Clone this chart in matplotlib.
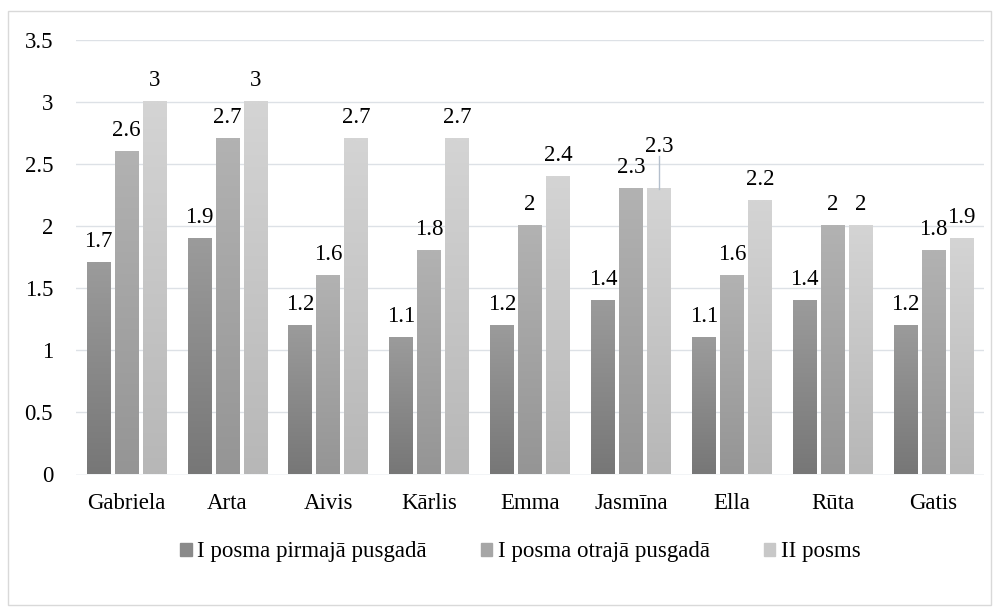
import matplotlib
matplotlib.use("Agg")
import matplotlib.pyplot as plt
import numpy as np
from matplotlib.patches import Rectangle

categories = ["Gabriela", "Arta", "Aivis", "Kārlis", "Emma", "Jasmīna", "Ella", "Rūta", "Gatis"]
series_names = ["I posma pirmajā pusgadā", "I posma otrajā pusgadā", "II posms"]
s1 = [1.7, 1.9, 1.2, 1.1, 1.2, 1.4, 1.1, 1.4, 1.2]
s2 = [2.6, 2.7, 1.6, 1.8, 2.0, 2.3, 1.6, 2.0, 1.8]
s3 = [3.0, 3.0, 2.7, 2.7, 2.4, 2.3, 2.2, 2.0, 1.9]
yticks = [0, 0.5, 1, 1.5, 2, 2.5, 3, 3.5]

series = [s1, s2, s3]
grad = [("#777777", "#9b9b9b"), ("#959595", "#b2b2b2"), ("#b7b7b7", "#d4d4d4")]
legend_col = ["#8a8a8a", "#a6a6a6", "#c8c8c8"]

FAM = ['Liberation Serif', 'DejaVu Serif']
plt.rcParams['font.family'] = FAM
FS = 16.5
W, H = 998, 612
fig = plt.figure(figsize=(W / 100, H / 100), dpi=100)
# outer chart border
fig.patches.append(Rectangle((8 / W, 1 - 605 / H), (991 - 8) / W, (605 - 11) / H,
                             transform=fig.transFigure, fill=False,
                             edgecolor="#d9d9d9", linewidth=1))

ax = fig.add_axes([76 / W, 1 - 474.5 / H, (984 - 76) / W, (474.5 - 40) / H])

x = np.arange(len(categories))
bw = 0.233
step = 0.2775

def hex2rgb(h):
    h = h.lstrip('#')
    return np.array([int(h[i:i+2], 16) / 255 for i in (0, 2, 4)])

for si, vals in enumerate(series):
    c0, c1 = hex2rgb(grad[si][0]), hex2rgb(grad[si][1])
    for i, v in enumerate(vals):
        xc = x[i] + (si - 1) * step
        t = np.linspace(0, 1, 64)[:, None]
        img = (c0[None, :] * (1 - t) + c1[None, :] * t)[:, None, :]
        ax.imshow(img, extent=(xc - bw / 2, xc + bw / 2, 0, v), origin='lower',
                  aspect='auto', zorder=2, interpolation='bilinear')
        if categories[i] == "Jasmīna" and si == 2:
            ax.plot([xc, xc], [v, v + 0.265], color="#b4bfcc", lw=1, zorder=3)
            ax.text(xc, v + 0.30, f"{v:g}", ha='center', va='baseline', fontsize=FS, color="#000")
        else:
            ax.annotate(f"{v:g}", (xc, v), xytext=(0, 11.5), textcoords='offset points',
                        ha='center', va='baseline', fontsize=FS, color="#000")

ax.set_xlim(-0.5, len(categories) - 0.5)
ax.set_ylim(0, 3.5)
ax.set_yticks(yticks)
ax.set_yticklabels([f"{t:g}" for t in yticks], fontsize=FS)
ax.set_xticks(x)
ax.set_xticklabels(categories, fontsize=FS)
ax.tick_params(length=0)
ax.tick_params(axis='x', pad=13.5)
ax.tick_params(axis='y', pad=16.5)
ax.grid(axis='y', color="#dde1e6", lw=1, zorder=0)
ax.set_axisbelow(True)
for s in ax.spines.values():
    s.set_visible(False)
ax.axhline(0, color="#dde1e6", lw=1, zorder=1)

handles = [Rectangle((0, 0), 1, 1, color=c) for c in legend_col]
fig.legend(handles, series_names, loc='center', bbox_to_anchor=(0.5215, 1 - 552 / H), ncol=3,
           frameon=False, fontsize=FS, handlelength=0.5, handleheight=0.5,
           handletextpad=0.25, columnspacing=2.35, borderpad=0)

fig.savefig("out.png", dpi=100)
